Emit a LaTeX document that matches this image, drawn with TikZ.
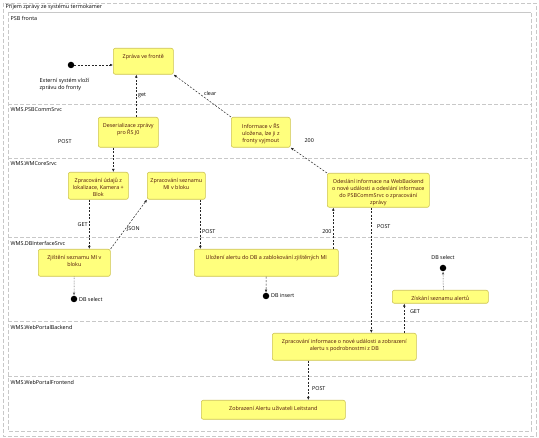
\documentclass[tikz,border=0pt]{standalone}
\usepackage{fontspec}
\setmainfont{Open Sans}
\usetikzlibrary{arrows.meta,positioning}

\definecolor{statefill}{RGB}{255,255,125}
\definecolor{stateline}{RGB}{205,195,80}
\definecolor{statetext}{RGB}{80,20,10}
\definecolor{lanegray}{RGB}{200,200,200}
\newcommand{\umlfont}{\fontsize{5.4}{7}\selectfont}

\tikzset{
  lane/.style={draw=lanegray, dash pattern=on 4pt off 2pt, line width=0.6pt},
  state/.style={draw=stateline, fill=statefill, rounded corners=2pt, anchor=north west,
    inner sep=0pt, line width=0.6pt},
  statelabel/.style={anchor=north, yshift=-2.5pt, text=statetext, align=center, font=\umlfont},
  lbl/.style={font=\umlfont, inner sep=1.5pt},
  dot/.style={circle, fill=black, inner sep=0pt, minimum size=6.5pt},
  flow/.style={draw=black!85, line width=0.5pt, dash pattern=on 2pt off 1.5pt,
    -{Latex[length=3pt,width=2.6pt]}},
  dbflow/.style={draw=black!70, line width=0.5pt, dash pattern=on 0.7pt off 0.9pt,
    -{Latex[open,length=3pt,width=2.6pt]}},
}

\begin{document}
\begin{tikzpicture}[x=1pt,y=-1pt]
  \useasboundingbox (0,0) rectangle (539,438);
  % frames and lanes
  \draw[lane] (3,3) rectangle (536,436);
  \node[lbl, anchor=west] at (4,7.5) {Příjem zprávy ze systému termokamer};
  \draw[lane] (8,12) rectangle (531,431);
  \foreach \y/\lanename in {12/PSB fronta, 104/WMS.PSBCommSrvc, 158/WMS.WMCoreSrvc,
      237/WMS.DBInterfaceSrvc, 321/WMS.WebPortalBackend, 376/WMS.WebPortalFrontend}{
    \draw[lane] (8,\y) -- (531,\y);
    \node[lbl, anchor=west] at (9,\y+6) {\lanename};
  }

  % states
  \node[state, minimum width=60pt, minimum height=26pt,
    label={[statelabel]north:{Zpráva ve frontě}}] (zprava) at (113,48) {};
  \node[state, minimum width=60pt, minimum height=30pt,
    label={[statelabel]north:{Deserializace zprávy\\pro ŘS J0}}] (deser) at (98,117) {};
  \node[state, minimum width=59pt, minimum height=30pt,
    label={[statelabel]north:{Informace v ŘS\\uložena, lze ji z\\fronty vyjmout}}] (info) at (231,117) {};
  \node[state, minimum width=102pt, minimum height=34pt,
    label={[statelabel]north:{Odeslání informace na WebBackend\\o nové události a odeslání informace\\do PSBCommSrvc o zpracování\\zprávy}}] (odes) at (327,173) {};
  \node[state, minimum width=60pt, minimum height=27pt,
    label={[statelabel]north:{Zpracování údajů z\\lokalizace, Kamera +\\Blok}}] (zudaj) at (68,172) {};
  \node[state, minimum width=58pt, minimum height=27pt,
    label={[statelabel]north:{Zpracování seznamu\\MI v bloku}}] (zsezn) at (147,172) {};
  \node[state, minimum width=72pt, minimum height=27pt,
    label={[statelabel]north:{Zjištění seznamu MI v\\bloku}}] (zjist) at (38,249) {};
  \node[state, minimum width=144pt, minimum height=27pt,
    label={[statelabel]north:{Uložení alertu do DB a zablokování zjištěných MI}}] (ulozeni) at (194,249) {};
  \node[state, minimum width=96pt, minimum height=13pt,
    label={[statelabel]north:{Získání seznamu alertů}}] (ziskani) at (392,290) {};
  \node[state, minimum width=144pt, minimum height=27pt,
    label={[statelabel]north:{Zpracování informace o nové události a zobrazení\\alertu s podrobnostmi z DB}}] (zinfo) at (272,333) {};
  \node[state, minimum width=144pt, minimum height=19pt,
    label={[statelabel]north:{Zobrazení Alertu uživateli Leitstand}}] (zobraz) at (201,400) {};

  % start and end points
  \node[dot] (start) at (71,65) {};
  \node[lbl, anchor=north west, align=left] (startnote) at (38,77) {Externí systém vloží\\zprávu do fronty};
  \node[dot, label={[lbl]right:DB select}] (dbselA) at (74,299) {};
  \node[dot, label={[lbl]right:DB insert}] (dbins) at (266,296) {};
  \node[dot, label={[lbl, label distance=3pt]above:DB select}] (dbselB) at (443,268) {};

  % transitions
  \draw[flow] (start) -- (start -| zprava.west);
  \draw[flow] ([xshift=8pt]deser.north) -- node[lbl, right] {get} ([xshift=8pt]deser.north |- zprava.south);
  \draw[flow] (info.north west) -- node[lbl, pos=0.5, anchor=west, yshift=2pt] {clear} (zprava.south east);
  \draw[flow] (odes.north west) -- node[lbl, pos=0.8, anchor=south west, xshift=5pt, yshift=8pt] {200} (info.south east);
  \draw[flow] ([xshift=-15pt]deser.south) -- node[lbl, pos=0, left=40pt, yshift=6pt] {POST} ([xshift=-15pt]deser.south |- zudaj.north);
  \draw[flow] ([xshift=-9pt]zudaj.south) -- node[lbl, left] {GET} ([xshift=-9pt]zudaj.south |- zjist.north);
  \draw[flow] (zjist.north east) -- node[lbl, pos=0.4, right] {JSON} (zsezn.south west);
  \draw[flow] ([xshift=24pt]zsezn.south) -- node[lbl, pos=0.64, right] {POST} ([xshift=24pt]zsezn.south |- ulozeni.north);
  \draw[flow] ([xshift=67pt]ulozeni.north) -- node[lbl, pos=0.43, left] {200} ([xshift=67pt]ulozeni.north |- odes.south);
  \draw[flow] (ulozeni) -- (dbins);
  \draw[dbflow] (zjist) -- (dbselA);
  \draw[flow] ([xshift=-7pt]odes.south) -- node[lbl, pos=0.15, right=4pt] {POST} ([xshift=-7pt]odes.south |- zinfo.north);
  \draw[flow] ([xshift=60pt]zinfo.north) -- node[lbl, pos=0.73, right=4pt] {GET} ([xshift=60pt]zinfo.north |- ziskani.south);
  \draw[dbflow] ([xshift=3pt]ziskani.north) -- (dbselB);
  \draw[flow] ([xshift=-36pt]zinfo.south) -- node[lbl, pos=0.72, right=2pt] {POST} ([xshift=-36pt]zinfo.south |- zobraz.north);
\end{tikzpicture}
\end{document}
